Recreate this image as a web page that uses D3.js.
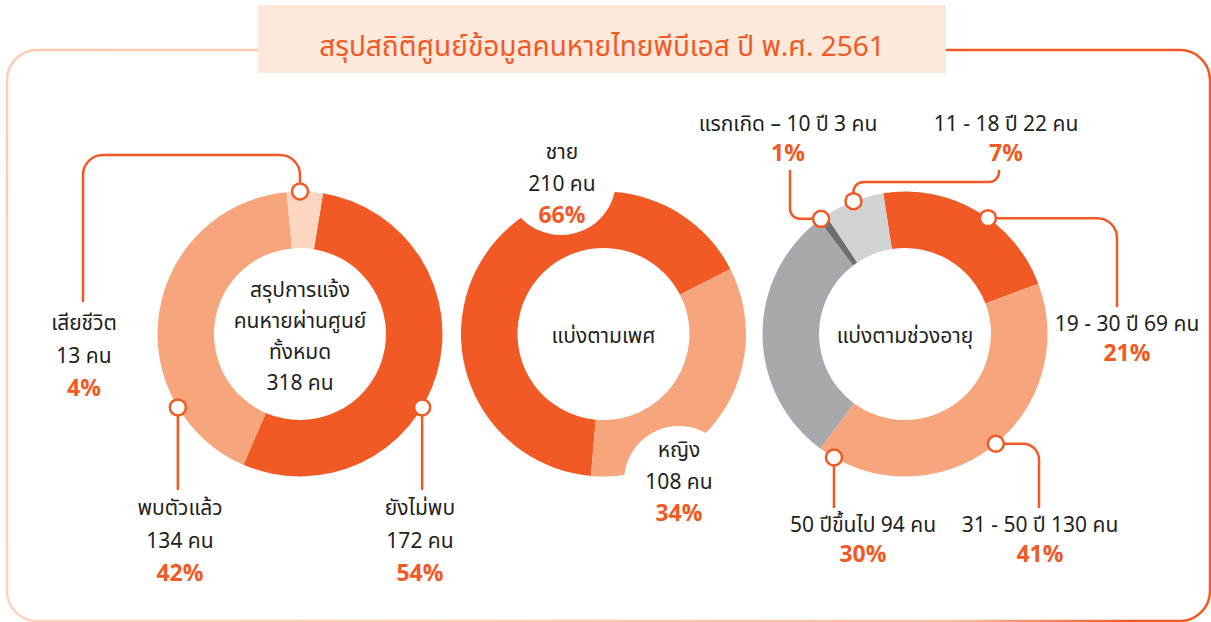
<!DOCTYPE html>
<html>
<head>
<meta charset="utf-8">
<script src="https://cdn.jsdelivr.net/npm/d3@7"></script>
<style>
  html, body { margin: 0; padding: 0; background: #fff; }
  svg { display: block; }
  text { font-family: "Noto Sans Thai", "Noto Sans", "DejaVu Sans", sans-serif; fill: #231f20; }
  .pct { font-weight: 700; fill: #f15a24; }
</style>
</head>
<body>
<svg id="chart" width="1211" height="622"></svg>
<script>
// Data
const title = "สรุปสถิติศูนย์ข้อมูลคนหายไทยพีบีเอส ปี พ.ศ. 2561";

const statusNames = ["ยังไม่พบ", "พบตัวแล้ว", "เสียชีวิต"];
const statusCounts = [172, 134, 13];
const statusPct = [54, 42, 4];
const statusCenter = ["สรุปการแจ้ง", "คนหายผ่านศูนย์", "ทั้งหมด", "318 คน"];

const genderNames = ["ชาย", "หญิง"];
const genderCounts = [210, 108];
const genderPct = [66, 34];
const genderCenter = ["แบ่งตามเพศ"];

const ageNames = ["19 - 30 ปี", "31 - 50 ปี", "50 ปีขึ้นไป", "แรกเกิด – 10 ปี", "11 - 18 ปี"];
const ageCounts = [69, 130, 94, 3, 22];
const agePct = [21, 41, 30, 1, 7];
const ageCenter = ["แบ่งตามช่วงอายุ"];

const ORANGE = "#f15a24";
const rad = (deg) => deg * Math.PI / 180;

const svg = d3.select("#chart");
const W = 1211, H = 622;

// frame gradient: peach bottom-left, orange top-right
const defs = svg.append("defs");
const grad = defs.append("linearGradient")
  .attr("id", "frameGrad").attr("gradientUnits", "userSpaceOnUse")
  .attr("x1", 0).attr("y1", H).attr("x2", W).attr("y2", 0);
grad.append("stop").attr("offset", 0).attr("stop-color", "#fdd3bd");
grad.append("stop").attr("offset", 0.62).attr("stop-color", "#fbc2a4");
grad.append("stop").attr("offset", 0.74).attr("stop-color", ORANGE);
grad.append("stop").attr("offset", 1).attr("stop-color", ORANGE);

// rounded frame, broken by the title box
const fx0 = 7, fy0 = 50, fx1 = 1210, fy1 = 621, fr = 30;
const tb = { x0: 258, x1: 946, y0: 5, y1: 73 };
const framePath = d3.path();
framePath.moveTo(tb.x1, fy0);
framePath.lineTo(fx1 - fr, fy0);
framePath.arcTo(fx1, fy0, fx1, fy0 + fr, fr);
framePath.lineTo(fx1, fy1 - fr);
framePath.arcTo(fx1, fy1, fx1 - fr, fy1, fr);
framePath.lineTo(fx0 + fr, fy1);
framePath.arcTo(fx0, fy1, fx0, fy1 - fr, fr);
framePath.lineTo(fx0, fy0 + fr);
framePath.arcTo(fx0, fy0, fx0 + fr, fy0, fr);
framePath.lineTo(tb.x0, fy0);
svg.append("path").attr("d", framePath.toString())
  .attr("fill", "none").attr("stroke", "url(#frameGrad)").attr("stroke-width", 2.5);

svg.append("rect").attr("x", tb.x0).attr("y", tb.y0)
  .attr("width", tb.x1 - tb.x0).attr("height", tb.y1 - tb.y0).attr("fill", "#fde8dc");
svg.append("text").attr("x", (tb.x0 + tb.x1) / 2).attr("y", 56)
  .attr("text-anchor", "middle").attr("font-size", 28)
  .style("fill", ORANGE).text(title);

const R_OUT = 142.5, R_IN = 86;
const arc = d3.arc().innerRadius(R_IN).outerRadius(R_OUT);

// polyline with rounded elbows
function leaderPath(pts, r) {
  const p = d3.path();
  p.moveTo(pts[0][0], pts[0][1]);
  for (let i = 1; i < pts.length - 1; i++) {
    p.arcTo(pts[i][0], pts[i][1], pts[i + 1][0], pts[i + 1][1], r);
  }
  const last = pts[pts.length - 1];
  p.lineTo(last[0], last[1]);
  return p.toString();
}

function donut(cfg) {
  const g = svg.append("g").attr("transform", `translate(${cfg.cx},${cfg.cy})`);
  const pie = d3.pie().sort(null).value((d) => d)
    .startAngle(rad(cfg.start)).endAngle(rad(cfg.start) + 2 * Math.PI);
  const arcs = pie(cfg.values);
  g.selectAll("path.slice").data(arcs).join("path")
    .attr("class", "slice")
    .attr("d", arc)
    .attr("fill", (d, i) => cfg.colors[i]);

  // white label discs cut into the ring
  (cfg.discs || []).forEach((dd) => {
    svg.append("circle").attr("cx", dd[0]).attr("cy", dd[1]).attr("r", dd[2]).attr("fill", "#fff");
  });

  const ct = g.append("text").attr("text-anchor", "middle").attr("font-size", 21);
  const n = cfg.center.length;
  cfg.center.forEach((line, i) => {
    ct.append("tspan").attr("x", 0).attr("y", (i - (n - 1) / 2) * 31 + 9).text(line);
  });

  // leaders
  const lg = svg.append("g");
  cfg.labels.forEach((lb) => {
    if (lb.marker == null) return;
    const mx = cfg.cx + Math.sin(rad(lb.marker)) * R_OUT;
    const my = cfg.cy - Math.cos(rad(lb.marker)) * R_OUT;
    const pts = [[mx, my]].concat(lb.route.map((p) => [p[0] == null ? mx : p[0], p[1] == null ? my : p[1]]));
    lg.append("path").attr("d", leaderPath(pts, lb.corner || 14))
      .attr("fill", "none").attr("stroke", ORANGE).attr("stroke-width", 2.5);
    lg.append("circle").attr("cx", mx).attr("cy", my).attr("r", 8)
      .attr("fill", "#fff").attr("stroke", ORANGE).attr("stroke-width", 2.5);
  });

  // labels
  cfg.labels.forEach((lb) => {
    lb.lines.forEach((ln, j) => {
      svg.append("text")
        .attr("class", ln.pct ? "pct" : null)
        .attr("x", lb.x).attr("y", lb.y + j * lb.gap)
        .attr("text-anchor", "middle")
        .attr("font-size", ln.pct ? 23 : 21)
        .text(ln.t);
    });
  });
}

const cnt = (v) => v + " คน";
const pc = (v) => v + "%";

donut({
  cx: 300, cy: 334, start: 9.3, values: statusCounts,
  colors: [ORANGE, "#f6a57c", "#fdd6c1"],
  center: statusCenter,
  labels: [
    { marker: 121, route: [[null, 490]], x: 420, y: 515, gap: 33,
      lines: [{ t: statusNames[0] }, { t: cnt(statusCounts[0]) }, { t: pc(statusPct[0]), pct: true }] },
    { marker: 239, route: [[null, 490]], x: 180, y: 515, gap: 33,
      lines: [{ t: statusNames[1] }, { t: cnt(statusCounts[1]) }, { t: pc(statusPct[1]), pct: true }] },
    { marker: 0, route: [[null, 155], [83, 155], [83, 302]], corner: 20, x: 84, y: 330, gap: 33,
      lines: [{ t: statusNames[2] }, { t: cnt(statusCounts[2]) }, { t: pc(statusPct[2]), pct: true }] },
  ],
});

donut({
  cx: 603.5, cy: 334, start: 62.8 + 122.3, values: genderCounts,
  colors: [ORANGE, "#f6a57c"],
  center: genderCenter,
  discs: [[561, 180, 55], [679, 481, 55]],
  labels: [
    { x: 562, y: 159, gap: 32,
      lines: [{ t: genderNames[0] }, { t: cnt(genderCounts[0]) }, { t: pc(genderPct[0]), pct: true }] },
    { x: 679, y: 457, gap: 32,
      lines: [{ t: genderNames[1] }, { t: cnt(genderCounts[1]) }, { t: pc(genderPct[1]), pct: true }] },
  ],
});

donut({
  cx: 905, cy: 334, start: -8.8, values: ageCounts,
  colors: [ORANGE, "#f6a57c", "#a7a9ac", "#6d6e71", "#d1d3d4"],
  center: ageCenter,
  labels: [
    { marker: 35.6, route: [[1117, null], [1117, 307]], corner: 20, x: 1127, y: 331, gap: 30,
      lines: [{ t: ageNames[0] + " " + cnt(ageCounts[0]) }, { t: pc(agePct[0]), pct: true }] },
    { marker: 140.4, route: [[1039, null], [1039, 508]], corner: 16, x: 1040, y: 532, gap: 30,
      lines: [{ t: ageNames[1] + " " + cnt(ageCounts[1]) }, { t: pc(agePct[1]), pct: true }] },
    { marker: 209.9, route: [[null, 508]], x: 863, y: 532, gap: 30,
      lines: [{ t: ageNames[2] + " " + cnt(ageCounts[2]) }, { t: pc(agePct[2]), pct: true }] },
    { marker: 323.9, route: [[790, null], [790, 170]], corner: 10, x: 788, y: 131, gap: 30,
      lines: [{ t: ageNames[3] + " " + cnt(ageCounts[3]) }, { t: pc(agePct[3]), pct: true }] },
    { marker: 338.8, route: [[null, 182], [999, 182], [999, 170]], corner: 10, x: 1006, y: 131, gap: 30,
      lines: [{ t: ageNames[4] + " " + cnt(ageCounts[4]) }, { t: pc(agePct[4]), pct: true }] },
  ],
});
</script>
</body>
</html>
